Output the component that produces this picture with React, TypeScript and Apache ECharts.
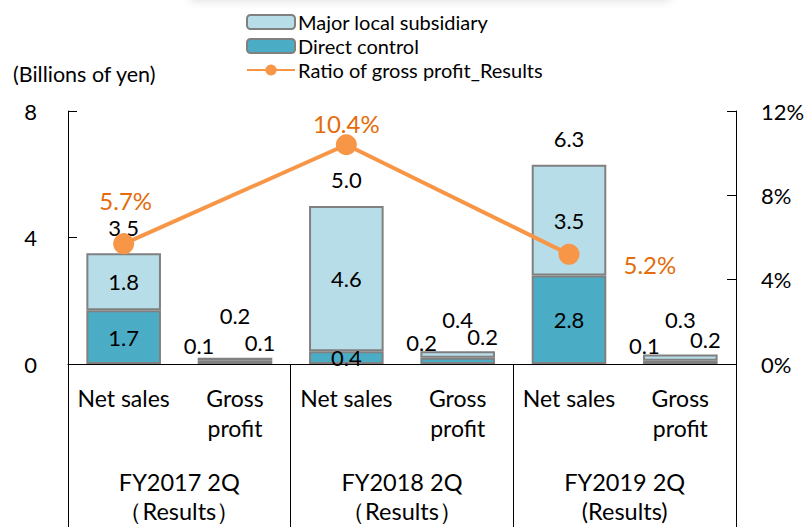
import React, { useEffect, useRef } from "react";
import * as echarts from "echarts";

const categories = ["Net sales", "Gross\nprofit", "Net sales", "Gross\nprofit", "Net sales", "Gross\nprofit"];
const periods = ["FY2017 2Q\n（Results）", "FY2018 2Q\n（Results）", "FY2019 2Q\n(Results)"];
const directControl = [1.7, 0.1, 0.4, 0.2, 2.8, 0.1];
const localSubsidiary = [1.8, 0.1, 4.6, 0.2, 3.5, 0.2];
const totals = [3.5, 0.2, 5.0, 0.4, 6.3, 0.3];
const grossProfitRatio: (number | null)[] = [5.7, null, 10.4, null, 5.2, null];
const leftTicks = { min: 0, max: 8, interval: 4 };
const rightTicks = { min: 0, max: 12, interval: 4 };

const FONT = "Lato, 'Open Sans', sans-serif";
const LIGHT = "#b7dde8";
const DARK = "#4bacc6";
const BORDER = "#808080";
const ORANGE = "#f79646";
const ORANGE_TEXT = "#e46c0a";

export default function App() {
  const ref = useRef<HTMLDivElement>(null);
  useEffect(() => {
    if (!ref.current) return;
    const chart = echarts.init(ref.current, undefined, { renderer: "svg" });
    const isGP = (i: number) => i % 2 === 1;

    const directData = directControl.map((v, i) =>
      isGP(i)
        ? { value: v, label: { position: "top", distance: 4, offset: [-36, 0] } }
        : { value: v }
    );
    const localData = localSubsidiary.map((v, i) =>
      isGP(i)
        ? { value: v, label: { position: "top", distance: 4, offset: [25, 0] } }
        : { value: v }
    );
    const totalDist = [15, 31, 15, 21, 15, 24];
    const totalData = totals.map((v, i) => ({ value: v, label: { distance: totalDist[i] } }));
    const ratioOffsets: Record<number, any> = {
      0: { position: "top", distance: 5, offset: [2, -16] },
      2: { position: "top", distance: 5, offset: [0, 6] },
      4: { position: "right", distance: 5, offset: [39, 10] },
    };
    const ratioData = grossProfitRatio.map((v, i) =>
      v == null ? null : { value: v, label: ratioOffsets[i] }
    );

    chart.setOption({
      animation: false,
      textStyle: { fontFamily: FONT },
      grid: { left: 68, right: 73, top: 111, bottom: 163, containLabel: false },
      legend: {
        orient: "vertical",
        left: 241,
        top: 7,
        itemWidth: 48,
        itemHeight: 14,
        itemGap: 4,
        textStyle: { fontSize: 20, color: "#000", fontFamily: FONT, lineHeight: 20, padding: [0, 0, 0, -2] },
        data: ["Major local subsidiary", "Direct control", "Ratio of gross profit_Results"],
      },
      graphic: [
        {
          type: "rect",
          shape: { x: 190, y: -30, width: 480, height: 30 },
          style: { fill: "#fff", shadowBlur: 10, shadowColor: "rgba(0,0,0,0.12)", shadowOffsetY: 1 },
          silent: true,
        },
        {
          type: "text",
          left: 13,
          top: 63,
          style: { text: "(Billions of yen)", fontSize: 21.5, fontFamily: FONT, fill: "#000" },
        },
      ],
      xAxis: [
        {
          type: "category",
          data: categories,
          position: "bottom",
          axisLine: { show: true, lineStyle: { color: "#000", width: 1 } },
          axisTick: { show: false },
          axisLabel: { color: "#000", fontSize: 23, lineHeight: 30, margin: 19, interval: 0, fontFamily: FONT },
        },
        {
          type: "category",
          data: periods,
          position: "bottom",
          axisLine: { show: false },
          axisTick: { show: true, length: 170, interval: 0, lineStyle: { color: "#000", width: 1 } },
          axisLabel: { color: "#000", fontSize: 23.5, lineHeight: 29, margin: 103, interval: 0, fontFamily: FONT },
        },
      ],
      yAxis: [
        {
          type: "value",
          ...leftTicks,
          axisLine: { show: true, lineStyle: { color: "#000", width: 1 } },
          axisTick: { show: true, inside: true, length: 9, lineStyle: { color: "#000" } },
          splitLine: { show: false },
          axisLabel: { color: "#000", fontSize: 22, margin: 31, fontFamily: FONT },
        },
        {
          type: "value",
          ...rightTicks,
          position: "right",
          axisLine: { show: true, lineStyle: { color: "#000", width: 1 } },
          axisTick: { show: true, inside: true, length: 9, lineStyle: { color: "#000" } },
          splitLine: { show: false },
          axisLabel: { color: "#000", fontSize: 22, margin: 25, formatter: "{value}%", fontFamily: FONT },
        },
      ],
      series: [
        {
          name: "Direct control",
          type: "bar",
          stack: "sales",
          barWidth: "67%",
          data: directData,
          itemStyle: { color: DARK, borderColor: BORDER, borderWidth: 2 },
          label: {
            show: true,
            position: "inside",
            color: "#000",
            fontSize: 22,
            fontFamily: FONT,
            formatter: (p: any) => Number(p.value).toFixed(1),
          },
        },
        {
          name: "Major local subsidiary",
          type: "bar",
          stack: "sales",
          barWidth: "67%",
          data: localData,
          itemStyle: { color: LIGHT, borderColor: BORDER, borderWidth: 2 },
          label: {
            show: true,
            position: "inside",
            color: "#000",
            fontSize: 22,
            fontFamily: FONT,
            formatter: (p: any) => Number(p.value).toFixed(1),
          },
        },
        {
          name: "Total",
          type: "line",
          data: totalData,
          symbol: "circle",
          symbolSize: 0.1,
          itemStyle: { color: "rgba(0,0,0,0)" },
          lineStyle: { opacity: 0 },
          silent: true,
          label: {
            show: true,
            position: "top",
            color: "#000",
            fontSize: 22,
            fontFamily: FONT,
            formatter: (p: any) => Number(p.value).toFixed(1),
          },
        },
        {
          name: "Ratio of gross profit_Results",
          type: "line",
          yAxisIndex: 1,
          data: ratioData,
          connectNulls: true,
          symbol: "circle",
          symbolSize: 21,
          itemStyle: { color: ORANGE },
          lineStyle: { color: ORANGE, width: 4 },
          z: 5,
          label: {
            show: true,
            color: ORANGE_TEXT,
            fontSize: 24,
            fontFamily: FONT,
            formatter: (p: any) => Number(p.value).toFixed(1) + "%",
          },
        },
      ],
    });
    return () => chart.dispose();
  }, []);
  return <div ref={ref} style={{ width: 809, height: 527, position: "absolute", left: 0, top: 0 }} />;
}
